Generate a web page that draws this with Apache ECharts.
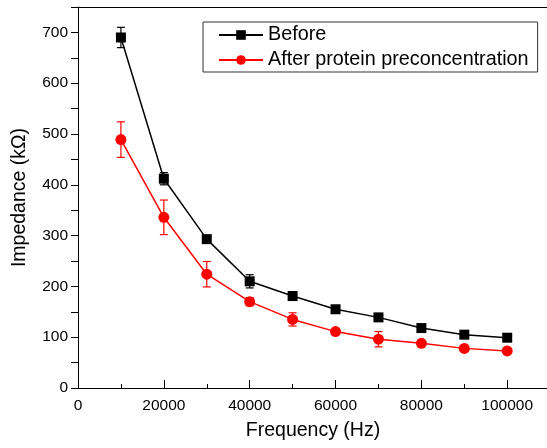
<!DOCTYPE html>
<html>
<head>
<meta charset="utf-8">
<script src="https://cdn.jsdelivr.net/npm/echarts@6/dist/echarts.min.js"></script>
<style>html,body{margin:0;padding:0;background:#fff;overflow:hidden;}#c{width:547px;height:448px;}</style>
</head>
<body>
<div id="c"></div>
<script>
var frequency = [10000, 20000, 30000, 40000, 50000, 60000, 70000, 80000, 90000, 100000];
var beforeValues = [690, 412, 293, 210, 181, 155, 139, 118, 105, 99];
var beforeErrors = [20, 12, 7, 13, 8, 3, 3, 3, 3, 3];
var afterValues = [489, 336, 224, 170, 135, 111, 96, 88, 78, 73];
var afterErrors = [35, 34, 25, 8, 13, 3, 15, 3, 3, 3];
var seriesNames = ['Before', 'After protein preconcentration'];

function pairs(xs, ys) { return xs.map(function (x, i) { return [x, ys[i]]; }); }
function errData(xs, ys, es) { return xs.map(function (x, i) { return [x, ys[i] - es[i], ys[i] + es[i]]; }); }
function errSeries(data, color) {
  return {
    type: 'custom', data: data, z: 1, silent: true, clip: false,
    renderItem: function (params, api) {
      var lo = api.coord([api.value(0), api.value(1)]);
      var hi = api.coord([api.value(0), api.value(2)]);
      var w = 4;
      var st = { stroke: color, lineWidth: 1.2 };
      return { type: 'group', children: [
        { type: 'line', shape: { x1: lo[0], y1: lo[1], x2: hi[0], y2: hi[1] }, style: st },
        { type: 'line', shape: { x1: lo[0] - w, y1: lo[1], x2: lo[0] + w, y2: lo[1] }, style: st },
        { type: 'line', shape: { x1: hi[0] - w, y1: hi[1], x2: hi[0] + w, y2: hi[1] }, style: st }
      ]};
    }
  };
}

var chart = echarts.init(document.getElementById('c'));
var font = 'Liberation Sans, Arial, sans-serif';
chart.setOption({
  animation: false,
  backgroundColor: '#fff',
  textStyle: { fontFamily: font },
  grid: { left: 78, top: 7, width: 470, height: 381, show: false, outerBoundsMode: 'none' },
  legend: {
    left: 203, top: 22, orient: 'vertical',
    data: seriesNames,
    borderColor: '#333', borderWidth: 1, backgroundColor: '#fff',
    padding: [3, 9, 2, 15], itemGap: 5,
    itemWidth: 44, itemHeight: 12,
    textStyle: { fontSize: 19.8, fontFamily: font, color: '#000', lineHeight: 20 }
  },
  xAxis: [{
    type: 'value', min: 0, max: 109500, interval: 20000,
    name: 'Frequency (Hz)', nameLocation: 'middle', nameGap: 33,
    nameTextStyle: { fontSize: 19.5, color: '#000', fontFamily: font },
    axisLine: { onZero: false, lineStyle: { color: '#000', width: 1 } },
    axisTick: { inside: true, length: 8, lineStyle: { color: '#000' } },
    minorTick: { show: true, splitNumber: 2, length: 4, lineStyle: { color: '#000' } },
    axisLabel: { fontSize: 15.5, color: '#000', margin: 10, showMaxLabel: false, fontFamily: font,
      formatter: function (v) { return String(v); } },
    splitLine: { show: false }
  }, {
    type: 'value', position: 'top', min: 0, max: 109500, interval: 20000,
    axisLine: { show: true, onZero: false, lineStyle: { color: '#000', width: 1 } },
    axisTick: { show: false }, axisLabel: { show: false }, splitLine: { show: false }
  }],
  yAxis: {
    type: 'value', position: 'left', min: 0, max: 750, interval: 100,
    name: 'Impedance (k\u03A9)', nameLocation: 'middle', nameGap: 48,
    nameTextStyle: { fontSize: 19.5, color: '#000', fontFamily: font },
    axisLine: { show: true, onZero: false, lineStyle: { color: '#000', width: 1 } },
    axisTick: { inside: false, length: 7, lineStyle: { color: '#000' } },
    minorTick: { show: true, splitNumber: 2, length: 7, lineStyle: { color: '#000' } },
    axisLabel: { fontSize: 15.5, color: '#000', margin: 10, showMaxLabel: false, fontFamily: font },
    splitLine: { show: false }
  },
  series: [
    errSeries(errData(frequency, beforeValues, beforeErrors), '#000'),
    errSeries(errData(frequency, afterValues, afterErrors), '#ff0000'),
    {
      name: seriesNames[0], type: 'line', data: pairs(frequency, beforeValues), z: 3,
      symbol: 'rect', symbolSize: 10,
      lineStyle: { color: '#000', width: 1.5 }, itemStyle: { color: '#000' }
    },
    {
      name: seriesNames[1], type: 'line', data: pairs(frequency, afterValues), z: 3,
      symbol: 'circle', symbolSize: 11,
      lineStyle: { color: '#ff0000', width: 1.5 }, itemStyle: { color: '#ff0000' }
    }
  ]
});
</script>
</body>
</html>
